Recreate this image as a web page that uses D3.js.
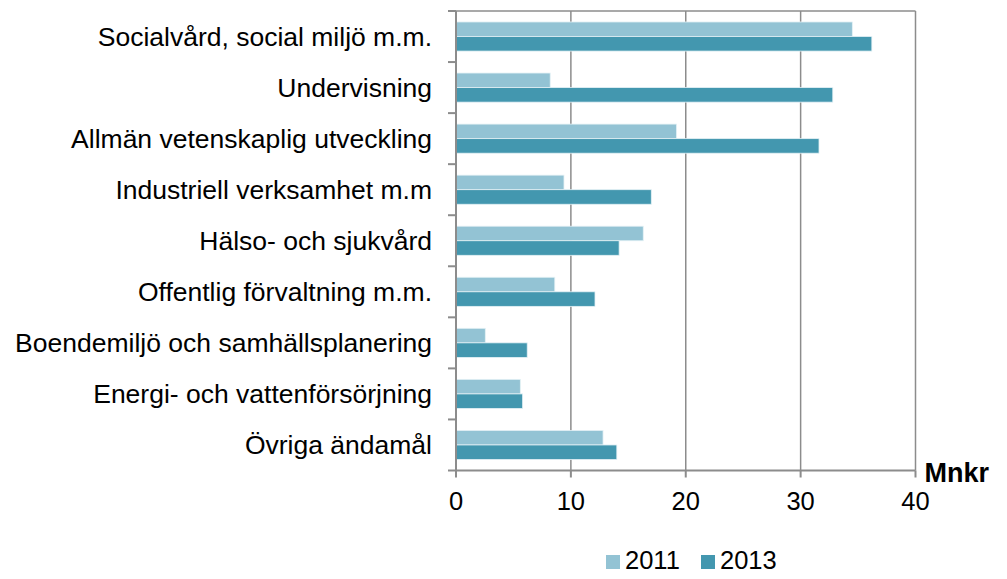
<!DOCTYPE html>
<html>
<head>
<meta charset="utf-8">
<script src="https://cdn.jsdelivr.net/npm/d3@7"></script>
<style>
  html, body { margin: 0; padding: 0; background: #fff; }
  svg text { font-family: "Liberation Sans", Arial, sans-serif; fill: #000; }
</style>
</head>
<body>
<svg id="chart" width="1007" height="579"></svg>
<script>
// Categories, top to bottom
var Categories = [
    "Socialvård, social miljö m.m.",
    "Undervisning",
    "Allmän vetenskaplig utveckling",
    "Industriell verksamhet m.m",
    "Hälso- och sjukvård",
    "Offentlig förvaltning m.m.",
    "Boendemiljö och samhällsplanering",
    "Energi- och vattenförsörjning",
    "Övriga ändamål"
];
// Series values (Mnkr)
var Values2011 = [34.5, 8.2, 19.2, 9.4, 16.3, 8.6, 2.55, 5.6, 12.8];
var Values2013 = [36.2, 32.8, 31.6, 17.0, 14.2, 12.1, 6.2, 5.8, 14.0];
var SeriesNames = ["2011", "2013"];
var SeriesColors = ["#93c3d4", "#4397af"];
var XTicks = [0, 10, 20, 30, 40];

var Margin = { Left: 456, Top: 11, Right: 1007 - 915.5, Bottom: 579 - 470.5 };
var SVG = d3.select("#chart");
var Width = 1007 - Margin.Left - Margin.Right;
var Height = 579 - Margin.Top - Margin.Bottom;
var Plot = SVG.append("g").attr("transform", `translate(${Margin.Left},${Margin.Top})`);

// Scales
var X = d3.scaleLinear().domain([0, 40]).range([0, Width]);
var Y = d3.scaleBand().domain(Categories).range([0, Height]).paddingInner(0).paddingOuter(0);
var Inner = d3.scaleBand().domain(SeriesNames).range([0, Y.bandwidth() * 0.57]);
var Offset = (Y.bandwidth() - Inner.range()[1]) / 2;

// Grid lines
Plot.selectAll("line.grid")
    .data(XTicks.slice(1))
    .enter()
    .append("line")
        .attr("class", "grid")
        .attr("x1", d => X(d)).attr("x2", d => X(d))
        .attr("y1", 0).attr("y2", Height)
        .attr("stroke", "#8c8c8c").attr("stroke-width", 1.5);
Plot.append("line")
    .attr("x1", 0).attr("x2", Width).attr("y1", 0).attr("y2", 0)
    .attr("stroke", "#8c8c8c").attr("stroke-width", 1.5);

// Bars
var Dataset = [];
Categories.forEach((Name, I) => {
    Dataset.push({ Name: Name, Series: "2011", Value: Values2011[I], Color: SeriesColors[0] });
    Dataset.push({ Name: Name, Series: "2013", Value: Values2013[I], Color: SeriesColors[1] });
});
Plot.selectAll("rect.bar")
    .data(Dataset)
    .enter()
    .append("rect")
        .attr("class", "bar")
        .attr("x", 0)
        .attr("y", d => Y(d.Name) + Offset + Inner(d.Series))
        .attr("width", d => X(d.Value))
        .attr("height", Inner.bandwidth())
        .attr("fill", d => d.Color)
        .attr("stroke", "#e4f1f5")
        .attr("stroke-width", 0.8);

// Y axis (category boundaries as ticks)
var YAxis = Plot.append("g");
YAxis.append("line")
    .attr("x1", 0).attr("x2", 0).attr("y1", 0).attr("y2", Height)
    .attr("stroke", "#8c8c8c").attr("stroke-width", 2);
YAxis.selectAll("line.ytick")
    .data(d3.range(Categories.length + 1))
    .enter()
    .append("line")
        .attr("class", "ytick")
        .attr("x1", -8).attr("x2", 0)
        .attr("y1", I => I * Y.step()).attr("y2", I => I * Y.step())
        .attr("stroke", "#8c8c8c").attr("stroke-width", 2);
YAxis.selectAll("text")
    .data(Categories)
    .enter()
    .append("text")
        .attr("x", -24)
        .attr("y", d => Y(d) + Y.bandwidth() / 2)
        .attr("dy", "0.35em")
        .attr("text-anchor", "end")
        .style("font-size", "26.5px")
        .text(d => d);

// X axis
var XAxis = Plot.append("g").attr("transform", `translate(0,${Height})`);
XAxis.append("line")
    .attr("x1", 0).attr("x2", Width)
    .attr("stroke", "#8c8c8c").attr("stroke-width", 2);
XAxis.selectAll("line.xtick")
    .data(XTicks)
    .enter()
    .append("line")
        .attr("class", "xtick")
        .attr("x1", d => X(d)).attr("x2", d => X(d))
        .attr("y1", 0).attr("y2", 7)
        .attr("stroke", "#8c8c8c").attr("stroke-width", 2);
XAxis.selectAll("text")
    .data(XTicks)
    .enter()
    .append("text")
        .attr("x", d => X(d))
        .attr("y", 39.5)
        .attr("text-anchor", "middle")
        .style("font-size", "25.5px")
        .text(d => d);
XAxis.append("text")
    .attr("x", Width + 9)
    .attr("y", 11.5)
    .style("font-size", "27px")
    .style("font-weight", "bold")
    .text("Mnkr");

// Legend
var Legend = SVG.append("g").attr("transform", "translate(606,555)");
var LegendItems = Legend.selectAll("g")
    .data(SeriesNames)
    .enter()
    .append("g")
        .attr("transform", (d, I) => `translate(${I * 95},0)`);
LegendItems.append("rect")
    .attr("width", 14).attr("height", 14)
    .attr("fill", (d, I) => SeriesColors[I]);
LegendItems.append("text")
    .attr("x", 19).attr("y", 14)
    .style("font-size", "25.5px")
    .text(d => d);
</script>
</body>
</html>
